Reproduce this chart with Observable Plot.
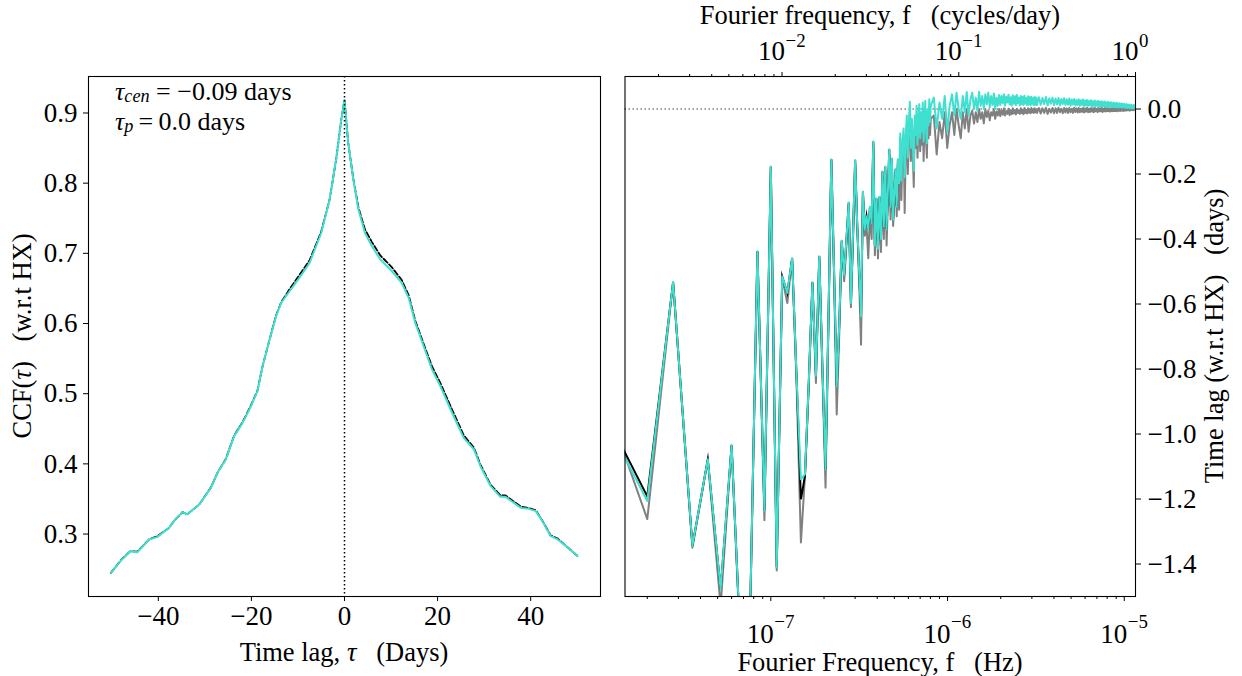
<!DOCTYPE html>
<html><head><meta charset="utf-8">
<script src="https://cdn.jsdelivr.net/npm/d3@7"></script>
<script src="https://cdn.jsdelivr.net/npm/@observablehq/plot@0.6"></script>
<style>
body{margin:0;background:#fff;}
#fig{position:relative;width:1242px;height:676px;overflow:hidden;background:#fff;}
#fig svg{position:absolute;top:0;}
</style></head><body><div id="fig"></div>
<script>
// ---------- Left panel: cross-correlation function ----------
const tauDays = [-50.2,-47.8,-46.0,-44.5,-42.0,-40.2,-37.7,-36.5,-34.8,-33.8,-31.2,-28.7,-27.3,-25.5,-23.7,-21.9,-20.1,-18.7,-17.6,-16.1,-14.7,-13.6,-11.8,-9.7,-7.5,-5.0,-3.2,-1.8,-0.7,0.0,0.8,1.9,3.0,4.4,5.9,7.7,10.2,12.3,13.8,15.2,17.0,18.8,20.6,22.8,25.6,27.8,29.2,31.4,33.5,34.6,37.9,39.6,41.1,42.5,44.3,45.8,47.6,50.1];
const ccfSolid = [0.2447,0.2638,0.2756,0.274,0.2923,0.296,0.3088,0.3198,0.3312,0.328,0.3422,0.3658,0.3872,0.4063,0.4395,0.4584,0.4822,0.5036,0.5392,0.5772,0.6104,0.6293,0.646,0.665,0.6863,0.729,0.7766,0.8336,0.8906,0.918,0.857,0.805,0.762,0.729,0.710,0.6912,0.6745,0.6578,0.6365,0.6009,0.5677,0.5345,0.5107,0.4775,0.4371,0.4205,0.3967,0.3682,0.3530,0.3530,0.3373,0.3359,0.3326,0.3184,0.2970,0.2923,0.2828,0.2685];
const ccfDashed = [0.2447,0.2645,0.2756,0.275,0.2923,0.297,0.3088,0.3198,0.3312,0.328,0.3422,0.3665,0.3872,0.407,0.4405,0.4595,0.4832,0.5045,0.5392,0.5772,0.6115,0.6305,0.649,0.669,0.690,0.731,0.7766,0.8336,0.8906,0.918,0.857,0.806,0.765,0.734,0.716,0.697,0.680,0.662,0.640,0.604,0.571,0.539,0.515,0.482,0.441,0.423,0.399,0.370,0.355,0.355,0.339,0.337,0.334,0.319,0.298,0.2935,0.283,0.2685];
const ccfXTicks = [-40,-20,0,20,40];
const ccfYTicks = [0.3,0.4,0.5,0.6,0.7,0.8,0.9];

// ---------- Right panel: time lag vs Fourier frequency ----------
const harmonicStep = 8e-9; // Hz between Fourier frequencies
const kLow = d3.range(1, 101);
const kMid = d3.range(104, 401, 4);
const kHigh = d3.range(410, 1441, 10);
const cyanLow = [
 -0.972,-1.206,-0.533,-1.344,-1.078,-1.478,-1.035,-1.70,-1.61,-0.438,
 -1.235,-0.177,-1.410,-0.515,-0.566,-0.459,-0.83,-1.139,-1.124,-0.84,
 -0.533,-0.82,-0.453,-0.80,-1.109,-0.64,-0.155,-0.50,-0.853,-0.66,
 -0.405,-0.51,-0.40,-0.288,-0.597,-0.38,-0.157,-0.35,-0.50,-0.638,
 -0.254,-0.37,-0.33,-0.372,-0.30,-0.35,-0.100,-0.42,-0.275,-0.43,
 -0.27,-0.40,-0.192,-0.36,-0.177,-0.37,-0.25,-0.124,-0.30,-0.152,
 -0.34,-0.26,-0.185,-0.30,-0.155,-0.23,-0.075,-0.22,-0.10,-0.06,
 -0.21,-0.09,-0.02,-0.15,-0.05,0.022,-0.12,-0.03,-0.10,-0.19,
 -0.02,-0.08,0.01,-0.11,-0.04,0.015,-0.09,-0.01,-0.07,0.02,
 -0.10,-0.03,0.025,-0.06,-0.105,0.0,-0.05,0.03,-0.04,0.01];
const cyanMid = [
 0.035,-0.06,0.02,-0.03,0.04,-0.07,0.01,
 0.045,-0.02,0.05,0.0,-0.03,0.04,-0.01,0.052,-0.02,0.03,
 0.05,0.0,0.035,-0.005,0.053,0.01,0.04,0.0,0.045,0.015,0.05,0.005,0.04,0.012,0.048,0.0,0.035,0.01,
 0.043,0.012,0.04,0.018,0.045,0.01,0.038,0.02,0.044,0.014,
 0.036,0.01,0.042,0.016,0.039,0.012,0.043,0.018,0.035,0.011,
 0.04,0.015,0.037,0.012,0.041,0.017,0.034,0.012,0.039,0.014,
 0.036,0.011,0.038,0.016,0.033,0.012,0.037,0.013,0.035,0.012];
const cyanHigh = [
 0.036,0.013,0.034,0.015,0.037,0.011,0.033,0.016,0.035,0.012,
 0.032,0.014,0.034,0.011,0.031,0.015,0.033,0.012,0.030,0.013,
 0.032,0.010,0.029,0.014,0.031,0.011,0.028,0.012,0.030,0.010,
 0.027,0.012,0.029,0.009,0.026,0.011,0.028,0.010,0.025,0.011,
 0.027,0.008,0.024,0.010,0.026,0.009,0.023,0.010,0.025,0.008,
 0.022,0.009,0.024,0.007,0.021,0.009,0.023,0.008,0.020,0.007,
 0.022,0.008,0.019,0.007,0.021,0.006,0.018,0.008,0.020,0.006,
 0.017,0.007,0.019,0.005,0.016,0.007,0.018,0.005,0.015,0.006,
 0.017,0.004,0.014,0.006,0.016,0.004,0.013,0.005,0.015,0.003,
 0.012,0.005,0.014,0.003,0.011,0.004,0.013,0.002,0.010,0.004,
 0.012,0.002,0.010,0.003];
const greyLow = [
 -0.919,-1.262,-0.533,-1.35,-1.08,-1.53,-1.035,-1.72,-1.62,-0.44,
 -1.265,-0.18,-1.42,-0.52,-0.597,-0.46,-0.85,-1.334,-1.13,-0.85,
 -0.535,-0.843,-0.455,-0.82,-1.165,-0.66,-0.16,-0.52,-0.940,-0.69,
 -0.41,-0.53,-0.42,-0.295,-0.61,-0.40,-0.165,-0.36,-0.53,-0.725,
 -0.26,-0.39,-0.36,-0.459,-0.32,-0.40,-0.11,-0.45,-0.29,-0.46,
 -0.29,-0.44,-0.21,-0.40,-0.19,-0.42,-0.28,-0.14,-0.34,-0.17,
 -0.36,-0.29,-0.20,-0.33,-0.17,-0.31,-0.09,-0.28,-0.13,-0.08,
 -0.32,-0.12,-0.05,-0.20,-0.08,-0.01,-0.16,-0.06,-0.14,-0.24,
 -0.05,-0.12,-0.03,-0.15,-0.07,-0.02,-0.13,-0.04,-0.11,-0.01,
 -0.16,-0.06,-0.01,-0.10,-0.15,-0.03,-0.09,-0.01,-0.08,-0.03];
const greyMid = [
 -0.02,-0.14,-0.04,-0.09,-0.01,-0.12,-0.05,
 -0.01,-0.08,0.0,-0.05,-0.09,-0.01,-0.06,0.0,-0.07,-0.02,
 -0.005,-0.045,-0.01,-0.04,0.0,-0.03,-0.01,-0.044,0.0,-0.025,-0.005,-0.035,-0.01,-0.02,0.0,-0.03,-0.008,-0.02,
 0.0,-0.022,-0.004,-0.018,0.002,-0.02,-0.006,-0.015,0.001,-0.019,
 -0.004,-0.016,0.002,-0.014,-0.003,-0.017,0.001,-0.012,-0.004,-0.015,
 0.002,-0.013,-0.002,-0.016,0.003,-0.012,-0.003,-0.014,0.002,-0.011,
 -0.002,-0.013,0.003,-0.01,-0.002,-0.012,0.002,-0.01,-0.001,-0.012];
const greyHigh = [
 0.003,-0.014,0.002,-0.012,0.004,-0.015,0.001,-0.011,0.003,-0.013,
 0.002,-0.012,0.004,-0.01,0.001,-0.013,0.003,-0.011,0.002,-0.012,
 0.003,-0.01,0.001,-0.012,0.004,-0.009,0.002,-0.011,0.003,-0.01,
 0.001,-0.009,0.003,-0.011,0.002,-0.008,0.004,-0.01,0.001,-0.009,
 0.003,-0.008,0.002,-0.01,0.004,-0.007,0.001,-0.009,0.003,-0.008,
 0.002,-0.007,0.004,-0.009,0.001,-0.007,0.003,-0.008,0.002,-0.006,
 0.003,-0.007,0.001,-0.008,0.004,-0.006,0.002,-0.007,0.003,-0.006,
 0.002,-0.006,0.003,-0.007,0.001,-0.005,0.004,-0.006,0.002,-0.005,
 0.003,-0.005,0.002,-0.006,0.004,-0.004,0.001,-0.005,0.003,-0.004,
 0.002,-0.004,0.003,-0.005,0.001,-0.004,0.003,-0.003,0.002,-0.004,
 0.002,-0.003,0.001,-0.002];
const blackOverrides = [[1,-0.955],[2,-1.192],[18,-1.201],[19,-1.13]];
const blackLastHarmonic = 66; // beyond this the black series is hidden under the cyan one
const lagYTicks = [0.0,-0.2,-0.4,-0.6,-0.8,-1.0,-1.2,-1.4];
const hzMajor = [1e-7,1e-6,1e-5];
const cpdMajor = [1e-2,1e-1,1];
const mantissas = [2,3,4,5,6,7,8,9];
const secondsPerDay = 86400;
const fDomain = [1.496e-8, 1/secondsPerDay];

// ---------- build tables ----------
const ccf = tauDays.map((t,i)=>({tau:t, solid:ccfSolid[i], dashed:ccfDashed[i]}));
const kAll = kLow.concat(kMid, kHigh);
const cyanAll = cyanLow.concat(cyanMid, cyanHigh);
const greyAll = greyLow.concat(greyMid, greyHigh);
const blackMap = new Map(blackOverrides);
const lags = kAll.map((k,i)=>({k, f:(k+0.5)*harmonicStep, cyan:cyanAll[i], grey:greyAll[i], black: blackMap.has(k)?blackMap.get(k):cyanAll[i]}));
const lagsBlack = lags.filter(d => d.k <= blackLastHarmonic);
const inDom = v => v >= fDomain[0]*0.999 && v <= fDomain[1]*1.001;
const hzMinor = [-8,-7,-6].flatMap(e=>mantissas.map(m=>m*Math.pow(10,e))).filter(inDom);
const topMajorHz = cpdMajor.map(c=>c/secondsPerDay);
const topMinorHz = [-3,-2,-1].flatMap(e=>mantissas.map(m=>m*Math.pow(10,e)/secondsPerDay)).filter(inDom);
const expo = v => "\u2212" + Math.round(-Math.log10(v));
const expoTop = v => { const e = Math.round(Math.log10(v*secondsPerDay)); return e<0 ? "\u2212"+(-e) : String(e); };
const minusFmt = (d,dec) => (d < 0 ? "\u2212" : "") + (dec==null ? Math.abs(d) : Math.abs(d).toFixed(dec));

const FONT = "Liberation Serif";
const FS = 27;      // tick labels
const FL = 26.5;    // axis labels
const FA = 26;      // annotation
const fig = document.getElementById("fig");

const left = Plot.plot({
  width: 620, height: 676,
  marginLeft: 88, marginRight: 20, marginTop: 76, marginBottom: 80,
  style: {fontFamily: FONT, fontSize: FS+"px", background: "transparent", color: "black"},
  x: {domain: [-55, 55]},
  y: {domain: [0.211, 0.952]},
  marks: [
    Plot.line(ccf, {x:"tau", y:"dashed", stroke:"black", strokeWidth:1.8, strokeDasharray:"5.5,2.4"}),
    Plot.line(ccf, {x:"tau", y:"solid", stroke:"#40E0D0", strokeWidth:2}),
    Plot.ruleX([0], {stroke:"black", strokeWidth:1.5, strokeDasharray:"1.5,2.5"}),
    Plot.frame({stroke:"black", strokeWidth:1.1}),
    Plot.axisX({ticks: ccfXTicks, tickSize:5, tickPadding:4, tickFormat: d=>minusFmt(d), label:null, fontSize:FS}),
    Plot.axisY({ticks: ccfYTicks, tickSize:5, tickPadding:6, tickFormat: d=>d.toFixed(1), label:null, fontSize:FS})
  ]
});
left.style.left = "0px";
fig.appendChild(left);

const right = Plot.plot({
  width: 622, height: 676,
  marginLeft: 4.5, marginRight: 107, marginTop: 76, marginBottom: 80,
  style: {fontFamily: FONT, fontSize: FS+"px", background: "transparent", color: "black"},
  x: {type: "log", domain: fDomain},
  y: {domain: [-1.5, 0.1]},
  marks: [
    Plot.ruleY([0], {stroke:"#808080", strokeWidth:1.3, strokeDasharray:"1.5,2.5"}),
    Plot.line(lags, {x:"f", y:"grey", stroke:"#808080", strokeWidth:2, clip:true}),
    Plot.line(lagsBlack, {x:"f", y:"black", stroke:"black", strokeWidth:2, strokeLinejoin:"miter", strokeMiterlimit:8, clip:true}),
    Plot.line(lags, {x:"f", y:"cyan", stroke:"#40E0D0", strokeWidth:2, strokeLinejoin:"round", clip:true}),
    Plot.frame({stroke:"black", strokeWidth:1.1}),
    Plot.axisY({anchor:"right", ticks: lagYTicks, tickSize:5, tickPadding:7, tickFormat: d=>minusFmt(d,1), label:null, fontSize:FS}),
    Plot.axisX({anchor:"bottom", ticks: hzMajor, tickSize:5, tickFormat: ()=>"", label:null}),
    Plot.axisX({anchor:"bottom", ticks: hzMinor, tickSize:3, tickFormat: ()=>"", label:null}),
    Plot.axisX({anchor:"top", ticks: topMajorHz, tickSize:5, tickFormat: ()=>"", label:null}),
    Plot.axisX({anchor:"top", ticks: topMinorHz, tickSize:3, tickFormat: ()=>"", label:null}),
    Plot.text(hzMajor, {x:d=>d, text:()=>"10", frameAnchor:"bottom", lineAnchor:"bottom", textAnchor:"end", dx:3, dy:46, fontSize:FS}),
    Plot.text(hzMajor, {x:d=>d, text:expo, frameAnchor:"bottom", lineAnchor:"bottom", textAnchor:"start", dx:3.5, dy:31, fontSize:FS*0.7}),
    Plot.text(topMajorHz, {x:d=>d, text:()=>"10", frameAnchor:"top", lineAnchor:"bottom", textAnchor:"end", dx:3, dy:-17, fontSize:FS}),
    Plot.text(topMajorHz, {x:d=>d, text:expoTop, frameAnchor:"top", lineAnchor:"bottom", textAnchor:"start", dx:3.5, dy:-30, fontSize:FS*0.7})
  ]
});
right.style.left = "620px";
fig.appendChild(right);

// ---------- labels and annotation ----------
const ov = d3.select(fig).append("svg")
  .attr("width", 1242).attr("height", 676)
  .style("left","0px").style("pointer-events","none")
  .attr("font-family", FONT).attr("font-size", FL).attr("fill","black");

function label(x, y, rot, parts){
  const t = ov.append("text")
    .attr("transform", `translate(${x},${y})` + (rot ? ` rotate(${rot})` : ""))
    .attr("text-anchor","middle").attr("dominant-baseline","central")
    .style("white-space","pre");
  parts.forEach(p => { const s = t.append("tspan").text(p[0]); if (p[1]) s.attr("font-style","italic"); });
}
label(344, 652, 0, [["Time lag, "],["\u03c4",1],["   (Days)"]]);
label(22, 336, -90, [["CCF("],["\u03c4",1],[")   (w.r.t HX)"]]);
label(880, 662, 0, [["Fourier Frequency, f   (Hz)"]]);
label(880, 15, 0, [["Fourier frequency, f   (cycles/day)"]]);
label(1214, 336, -90, [["Time lag (w.r.t HX)   (days)"]]);

function annot(y, sub, rest){
  const t = ov.append("text").attr("x", 115).attr("y", y).attr("font-size", FA).style("white-space","pre");
  t.append("tspan").attr("font-style","italic").text("\u03c4");
  t.append("tspan").attr("font-style","italic").attr("font-size", FA*0.7).attr("dy", 2).text(sub);
  t.append("tspan").attr("dy", -2).text(rest);
}
annot(100, "cen", " = \u22120.09 days");
annot(130, "p", "\u2009=\u20090.0 days");
</script></body></html>
